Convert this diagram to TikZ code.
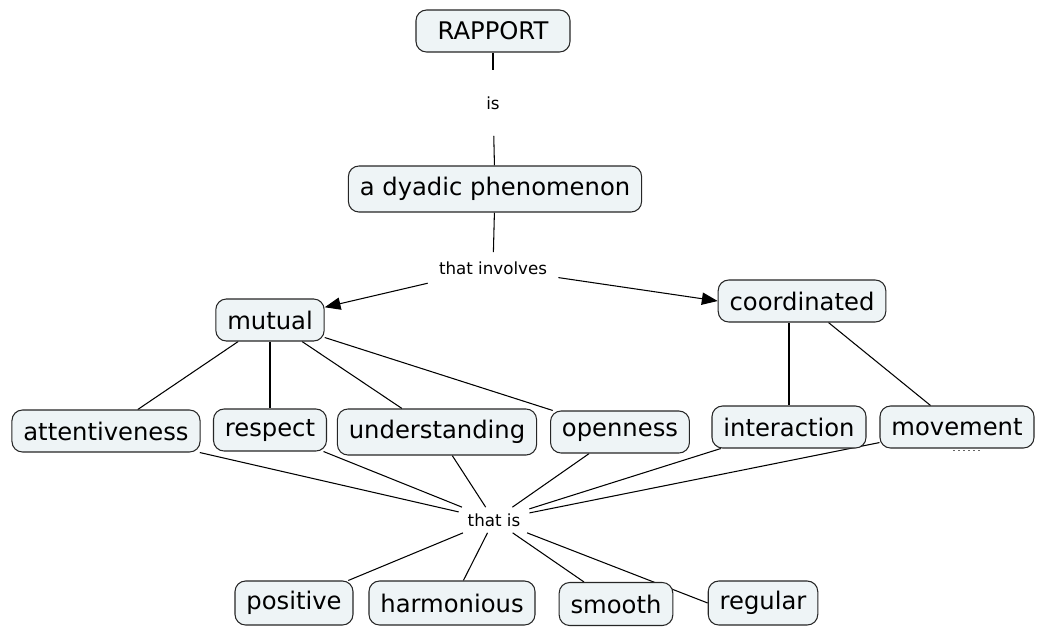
\documentclass[tikz,border=0pt]{standalone}
\usepackage{fontspec}
\setmainfont{DejaVu Sans}
\usepackage{tikz}
\usetikzlibrary{arrows.meta,backgrounds}
\definecolor{conceptfill}{RGB}{238,244,246}

\begin{document}
\begin{tikzpicture}[
  concept/.style={draw=black!85, fill=conceptfill, rounded corners=6pt, line width=0.6pt,
    font=\fontsize{13.8}{16}\selectfont, inner xsep=6.5pt, minimum height=0.84cm},
  linking/.style={font=\fontsize{9.5}{11}\selectfont, inner sep=2pt},
  link/.style={line width=0.6pt},
  arrowlink/.style={line width=0.6pt, -{Triangle[length=9pt,width=7pt]}}
]
\useasboundingbox (0,0) rectangle (20.84,-12.52);

\node[concept, minimum width=3.08cm] (rapport) at (9.86,-0.62) {RAPPORT};
\node[linking, minimum height=1.3cm] (is) at (9.86,-2.06) {is};
\node[concept, minimum height=0.92cm] (dyadic) at (9.9,-3.78) {a dyadic phenomenon};
\node[linking, minimum height=0.62cm, minimum width=2.6cm] (involves) at (9.86,-5.36) {that involves};

\node[concept] (mutual) at (5.4,-6.4) {mutual};
\node[concept] (coordinated) at (16.04,-6.02) {coordinated};

\node[concept] (attentiveness) at (2.12,-8.62) {attentiveness};
\node[concept] (respect) at (5.4,-8.6) {respect};
\node[concept, minimum height=0.92cm] (understanding) at (8.74,-8.64) {understanding};
\node[concept] (openness) at (12.4,-8.64) {openness};
\node[concept] (interaction) at (15.78,-8.54) {interaction};
\node[concept] (movement) at (19.14,-8.54) {movement};

\node[linking, minimum width=1.4cm, minimum height=0.5cm] (thatis) at (9.88,-10.4) {that is};

\node[concept, minimum height=0.88cm] (positive) at (5.88,-12.06) {positive};
\node[concept, minimum height=0.88cm] (harmonious) at (9.04,-12.06) {harmonious};
\node[concept, minimum height=0.86cm] (smooth) at (12.32,-12.08) {smooth};
\node[concept, minimum height=0.88cm] (regular) at (15.26,-12.06) {regular};

\begin{scope}[on background layer]
\draw[link] (rapport) -- (is);
\draw[link] (is) -- (dyadic);
\draw[link] (dyadic) -- (involves);
\draw[arrowlink] (involves) -- (mutual);
\draw[arrowlink] (involves) -- (coordinated.west);

\draw[link] (mutual) -- (attentiveness);
\draw[link] (mutual) -- (respect);
\draw[link] (mutual) -- (understanding);
\draw[link] (mutual) -- (openness);
\draw[link] (interaction |- coordinated.south) -- (interaction);
\draw[link] (coordinated) -- (movement);

\foreach \c in {attentiveness,respect,understanding,openness,interaction,movement}
  \draw[link] (\c) -- (thatis);

\draw[link] (thatis) -- (positive);
\draw[link] (thatis) -- (harmonious);
\draw[link] (thatis) -- (smooth);
\draw[link] (thatis) -- (regular.west);
\end{scope}

% small marker under movement
\draw[dotted, line width=0.8pt, black!60]
  ([xshift=-2pt,yshift=-1.2pt]movement.south) -- ([xshift=14pt,yshift=-1.2pt]movement.south);
\end{tikzpicture}
\end{document}
